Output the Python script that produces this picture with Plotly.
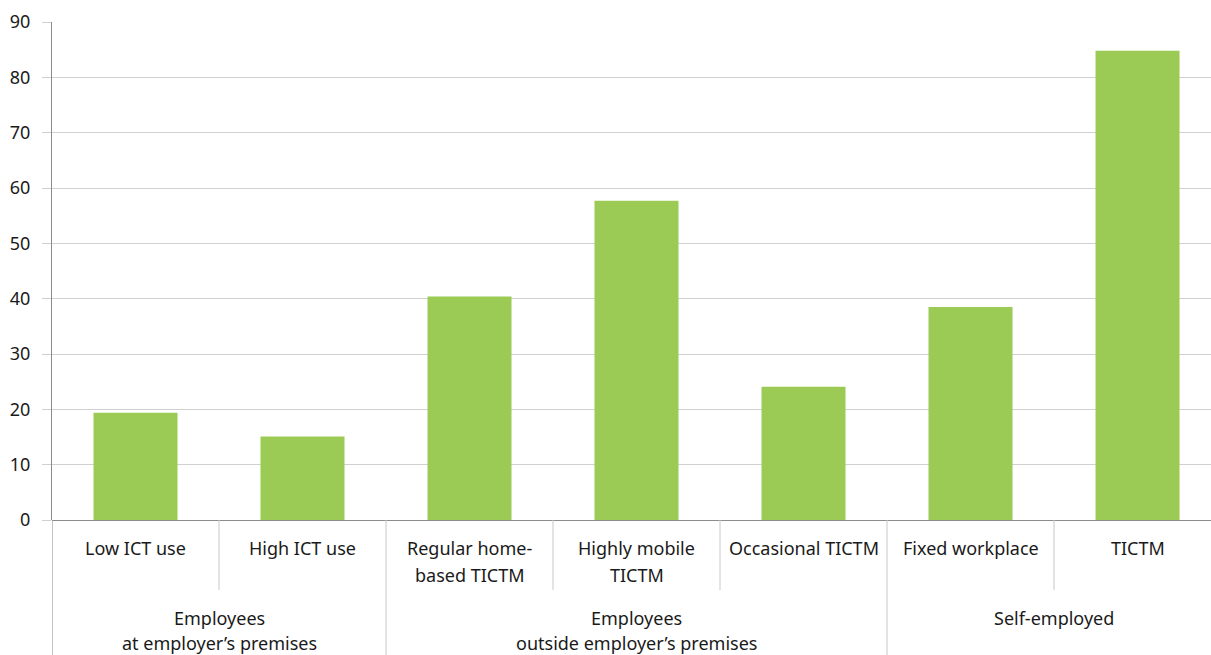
import plotly.graph_objects as go

# ---- data ----
categories = ["Low ICT use", "High ICT use", "Regular home-\nbased TICTM",
              "Highly mobile\nTICTM", "Occasional TICTM", "Fixed workplace", "TICTM"]
values = [19.4, 15.1, 40.4, 57.7, 24.1, 38.5, 84.8]
groups = ["Employees\nat employer’s premises", "Employees\noutside employer’s premises", "Self-employed"]
group_sizes = [2, 3, 2]
y_ticks = [0, 10, 20, 30, 40, 50, 60, 70, 80, 90]

# ---- layout constants ----
W, H = 1211, 655
M_T, M_B, M_L, M_R = 22, 135, 52, 0
PLOT_H = H - M_T - M_B
X_MAX = 6.44  # the original plot area runs slightly past the right edge
FONT = "Noto Sans"
TXT = "#1a1a1a"
BAR = "#9BCB54"
GRID = "#d0d0d0"
DIV = "#c8c8c8"
AXIS = "#8c8c8c"


def py(px_below):
    """pixels below the x axis -> paper y"""
    return -px_below / PLOT_H


x_idx = list(range(len(categories)))

fig = go.Figure(go.Bar(
    x=x_idx, y=values, marker=dict(color=BAR, line=dict(width=0)),
    width=0.503, hoverinfo="skip"))

annotations = []
shapes = []

# sub-category labels
LINE_SP = 27
for i, lab in enumerate(categories):
    for k, line in enumerate(lab.split("\n")):
        annotations.append(dict(x=i, xref="x", y=py(28 + k * LINE_SP), yref="paper",
                                yanchor="middle", xanchor="center", text=line, showarrow=False,
                                font=dict(family=FONT, size=18, color=TXT)))

# group labels + dividers
start = 0
bounds = [-0.5]
for g, n in zip(groups, group_sizes):
    center = start + (n - 1) / 2
    for k, line in enumerate(g.split("\n")):
        annotations.append(dict(x=center, xref="x", y=py(98 + k * 25), yref="paper",
                                yanchor="middle", xanchor="center", text=line, showarrow=False,
                                font=dict(family=FONT, size=18, color=TXT)))
    for j in range(1, n):
        xb = start + j - 0.5
        shapes.append(dict(type="line", xref="x", yref="paper", x0=xb, x1=xb,
                           y0=0, y1=py(70), line=dict(color=DIV, width=1)))
    start += n
    bounds.append(start - 0.5)

for xb in bounds[:-1]:
    shapes.append(dict(type="line", xref="x", yref="paper", x0=xb, x1=xb,
                       y0=0, y1=py(140), line=dict(color=DIV if xb > -0.5 else AXIS, width=1)))

fig.update_layout(
    width=W, height=H,
    margin=dict(t=M_T, b=M_B, l=M_L, r=M_R, pad=0),
    paper_bgcolor="white", plot_bgcolor="white",
    showlegend=False, hovermode=False,
    annotations=annotations, shapes=shapes,
    xaxis=dict(range=[-0.5, X_MAX], showticklabels=False, showgrid=False,
               zeroline=False, showline=False, ticks=""),
    yaxis=dict(range=[0, 90], tickvals=y_ticks, showgrid=True, gridcolor=GRID, gridwidth=1,
               zeroline=True, zerolinecolor=AXIS, zerolinewidth=1,
               showline=True, linecolor=AXIS, linewidth=1,
               ticks="outside", ticklen=9, tickcolor=GRID, ticklabelstandoff=8,
               tickfont=dict(family=FONT, size=18, color=TXT)),
    font=dict(family=FONT, size=18, color=TXT),
)

fig.write_html(
    "out.html",
    config={"displayModeBar": False},
    post_script="document.body.style.margin='0';document.documentElement.style.overflow='hidden';",
)
